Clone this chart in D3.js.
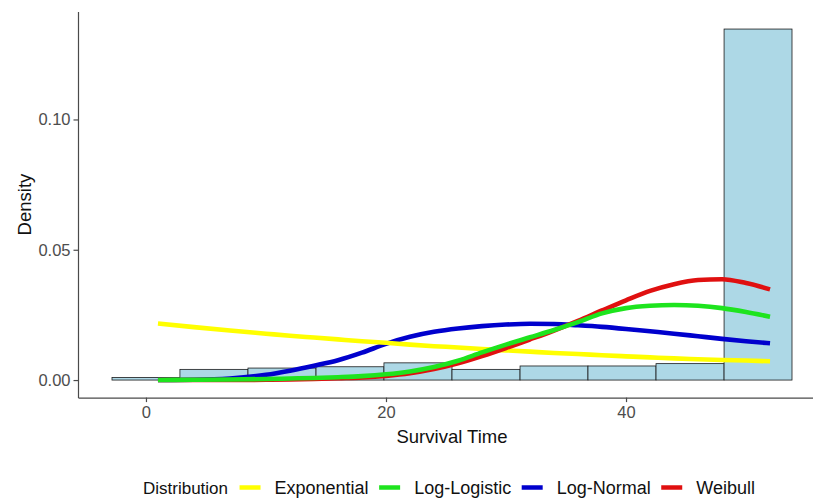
<!DOCTYPE html>
<html>
<head>
<meta charset="utf-8">
<script src="https://cdn.jsdelivr.net/npm/d3@7"></script>
<style>
  html, body { margin: 0; padding: 0; background: #ffffff; }
  svg { display: block; font-family: "Liberation Sans", Arial, Helvetica, sans-serif; }
</style>
</head>
<body>
<svg id="chart" width="813" height="499"></svg>
<script>
// Histogram of survival times (density scale), bins of width ~5.67
const binStart = [-2.83, 2.83, 8.5, 14.17, 19.83, 25.5, 31.17, 36.83, 42.5, 48.17];
const binEnd   = [2.83, 8.5, 14.17, 19.83, 25.5, 31.17, 36.83, 42.5, 48.17, 53.83];
const binDensity = [0.0010, 0.0041, 0.0046, 0.0051, 0.0066, 0.0041, 0.0054, 0.0054, 0.0063, 0.1347];

// Fitted density curves evaluated on a common time grid
const timeGrid = [1, 4, 7, 10, 12, 14, 16, 18, 20, 22, 24, 26, 28, 30, 32, 34, 36, 38, 40, 42, 44, 46, 48, 50, 52];
const exponential = [0.0217, 0.0203, 0.0190, 0.0178, 0.0170, 0.0163, 0.0156, 0.0149, 0.0143, 0.0136, 0.0130, 0.0125, 0.0119, 0.0114, 0.0109, 0.0104, 0.0100, 0.0095, 0.0091, 0.0087, 0.0083, 0.0080, 0.0077, 0.0075, 0.0072];
const logLogistic = [0.0000, 0.0001, 0.0002, 0.0004, 0.0006, 0.0008, 0.0011, 0.0015, 0.0022, 0.0033, 0.0050, 0.0074, 0.0106, 0.0136, 0.0164, 0.0192, 0.0222, 0.0256, 0.0276, 0.0285, 0.0288, 0.0285, 0.0276, 0.0261, 0.0243];
const logNormal   = [0.0000, 0.0001, 0.0006, 0.0020, 0.0036, 0.0055, 0.0076, 0.0105, 0.0139, 0.0166, 0.0185, 0.0198, 0.0207, 0.0213, 0.0216, 0.0215, 0.0210, 0.0204, 0.0196, 0.0187, 0.0178, 0.0168, 0.0158, 0.0149, 0.0141];
const weibull     = [0.0000, 0.0000, 0.0000, 0.0001, 0.0002, 0.0004, 0.0007, 0.0010, 0.0016, 0.0026, 0.0042, 0.0064, 0.0092, 0.0123, 0.0156, 0.0190, 0.0227, 0.0267, 0.0306, 0.0342, 0.0368, 0.0384, 0.0387, 0.0372, 0.0348];

const seriesNames = ["Exponential", "Log-Logistic", "Log-Normal", "Weibull"];
const seriesValues = [exponential, logLogistic, logNormal, weibull];
const seriesColors = ["#ffff00", "#1ee41e", "#0000cd", "#e01010"];
const drawOrder = ["Log-Normal", "Exponential", "Weibull", "Log-Logistic"];

const xTicks = [0, 20, 40];
const yTicks = [0, 0.05, 0.10];

const svg = d3.select("#chart");
const panel = { left: 78, right: 826, top: 11.5, bottom: 397.6 };

// Domains with 5% padding on each side of the data range
const xMin = d3.min(binStart), xMax = d3.max(binEnd);
const xPad = (xMax - xMin) * 0.05;
const x = d3.scaleLinear().domain([xMin - xPad, xMax + xPad]).range([panel.left, panel.right]);
const yMaxData = d3.max(binDensity);
const yPad = yMaxData * 0.05;
const y = d3.scaleLinear().domain([-yPad, yMaxData + yPad]).range([panel.bottom, panel.top]);

// Histogram bars
svg.append("g")
  .selectAll("rect")
  .data(binDensity.map((d, i) => ({ x0: binStart[i], x1: binEnd[i], d })))
  .join("rect")
  .attr("x", d => x(d.x0))
  .attr("width", d => x(d.x1) - x(d.x0))
  .attr("y", d => y(d.d))
  .attr("height", d => y(0) - y(d.d))
  .attr("fill", "#add8e6")
  .attr("stroke", "#1a1a1a")
  .attr("stroke-width", 0.8);

// Density curves
const line = d3.line()
  .x((d, i) => x(timeGrid[i]))
  .y(d => y(d))
  .curve(d3.curveMonotoneX);

drawOrder.forEach(name => {
  const k = seriesNames.indexOf(name);
  svg.append("path")
    .datum(seriesValues[k])
    .attr("d", line)
    .attr("fill", "none")
    .attr("stroke", seriesColors[k])
    .attr("stroke-width", 4.6)
    .attr("stroke-linejoin", "round")
    .attr("stroke-linecap", "butt");
});

// Axes
const yAxis = svg.append("g")
  .attr("transform", `translate(${panel.left},0)`)
  .call(d3.axisLeft(y).tickValues(yTicks).tickFormat(d3.format(".2f")).tickSize(4.5).tickSizeOuter(0).tickPadding(3));
const xAxis = svg.append("g")
  .attr("transform", `translate(0,${panel.bottom})`)
  .call(d3.axisBottom(x).tickValues(xTicks).tickSize(4.5).tickSizeOuter(0).tickPadding(4));

[yAxis, xAxis].forEach(g => {
  g.select(".domain").attr("stroke", "#4a4a4a").attr("stroke-width", 1.2);
  g.selectAll(".tick line").attr("stroke", "#4a4a4a").attr("stroke-width", 1.2);
  g.selectAll(".tick text")
    .attr("fill", "#4d4d4d")
    .style("font-size", "16.5px")
    .style("font-family", "'Liberation Sans', Arial, sans-serif");
});

// Axis titles
svg.append("text")
  .attr("x", (panel.left + panel.right) / 2)
  .attr("y", 443)
  .attr("text-anchor", "middle")
  .attr("fill", "#111")
  .style("font-size", "18.5px")
  .text("Survival Time");

svg.append("text")
  .attr("transform", `translate(31,${(panel.top + panel.bottom) / 2}) rotate(-90)`)
  .attr("text-anchor", "middle")
  .attr("fill", "#111")
  .style("font-size", "18.5px")
  .text("Density");

// Legend
const legend = svg.append("g");
const legendBaseline = 494;
const legendKeyY = 487.5;
let cursor = 143;
const title = legend.append("text")
  .attr("x", cursor).attr("y", legendBaseline)
  .attr("fill", "#111")
  .style("font-size", "17px")
  .text("Distribution");
cursor += title.node().getComputedTextLength() + 11.5;

seriesNames.forEach((name, k) => {
  legend.append("line")
    .attr("x1", cursor).attr("x2", cursor + 21)
    .attr("y1", legendKeyY).attr("y2", legendKeyY)
    .attr("stroke", seriesColors[k])
    .attr("stroke-width", 4.5);
  cursor += 21 + 14;
  const t = legend.append("text")
    .attr("x", cursor).attr("y", legendBaseline)
    .attr("fill", "#111")
    .style("font-size", "18px")
    .text(name);
  cursor += t.node().getComputedTextLength() + 10.5;
});
</script>
</body>
</html>
